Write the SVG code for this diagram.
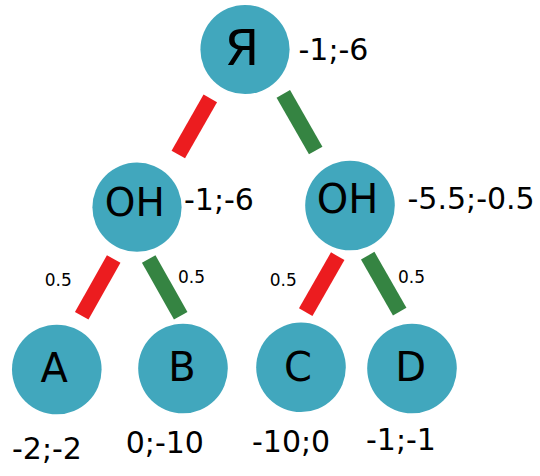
<svg xmlns="http://www.w3.org/2000/svg" width="540" height="476" viewBox="0 0 540 476">
<style>
.n{fill:#41a7bd}
.t{font-family:"DejaVu Sans",sans-serif;fill:#000}
.big{font-size:40px;text-anchor:middle}
.v{font-size:30px}
.p{font-size:17px}
.r{stroke:#ec1c1f;stroke-width:15.5;stroke-linecap:butt}
.g{stroke:#358442;stroke-width:15.5;stroke-linecap:butt}
</style>
<rect width="540" height="476" fill="#fff"/>
<g id="connectors">
<line class="r" x1="210.3" y1="98.3" x2="178.3" y2="154.5"/>
<line class="g" x1="283.3" y1="93.8" x2="315.7" y2="150.5"/>
<line class="r" x1="113.7" y1="259" x2="81.7" y2="315.8"/>
<line class="g" x1="148.7" y1="259" x2="180.7" y2="315.8"/>
<line class="r" x1="337.7" y1="256.2" x2="305.7" y2="312.2"/>
<line class="g" x1="367.7" y1="255.7" x2="399.7" y2="311.7"/>
<text class="t p" x="44.7" y="286">0.5</text>
<text class="t p" x="178" y="283.3">0.5</text>
<text class="t p" x="269.7" y="286">0.5</text>
<text class="t p" x="398" y="283.3">0.5</text>
</g>
<g id="root">
<circle class="n" cx="245" cy="49.5" r="44.6"/>
<text class="t big" x="241.8" y="65" style="font-size:50px">Я</text>
<text class="t v" x="298.5" y="60">-1;-6</text>
</g>
<g id="on-left">
<circle class="n" cx="137" cy="207.2" r="44.6"/>
<text class="t big" x="134.8" y="215.7" style="font-size:39px">ОН</text>
<text class="t v" x="184" y="210">-1;-6</text>
</g>
<g id="on-right">
<circle class="n" cx="350" cy="205.5" r="44.8"/>
<text class="t big" x="347.5" y="212.7">ОН</text>
<text class="t v" x="407.5" y="209">-5.5;-0.5</text>
</g>
<g id="A">
<circle class="n" cx="56.8" cy="369.5" r="44.8"/>
<text class="t big" x="54.3" y="382">A</text>
<text class="t v" x="12" y="459">-2;-2</text>
</g>
<g id="B">
<circle class="n" cx="183" cy="368.5" r="44.8"/>
<text class="t big" x="182" y="380.7">B</text>
<text class="t v" x="125.7" y="453.3">0;-10</text>
</g>
<g id="C">
<circle class="n" cx="301" cy="367.3" r="44.8"/>
<text class="t big" x="298" y="380.7">C</text>
<text class="t v" x="252" y="451.7">-10;0</text>
</g>
<g id="D">
<circle class="n" cx="412" cy="368.5" r="44.8"/>
<text class="t big" x="410.7" y="381">D</text>
<text class="t v" x="366" y="450">-1;-1</text>
</g>
</svg>
